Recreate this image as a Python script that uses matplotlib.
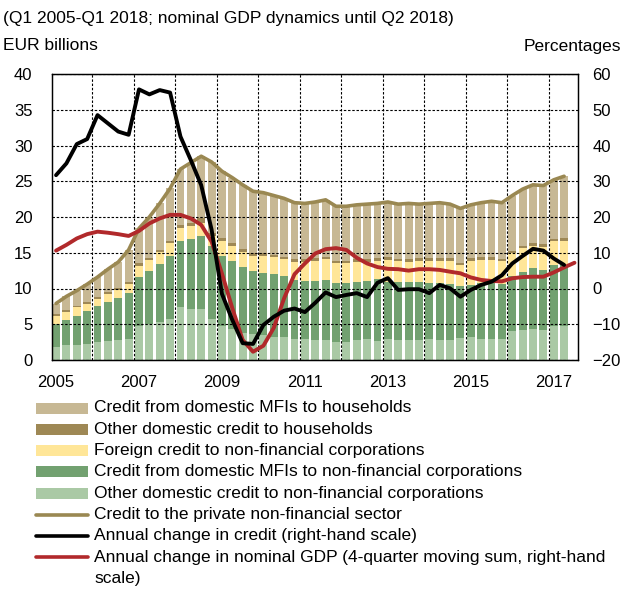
import numpy as np
import matplotlib
matplotlib.use("Agg")
import matplotlib.pyplot as plt
from matplotlib import font_manager
from matplotlib.patches import Rectangle
from matplotlib.lines import Line2D

# quarterly data, EUR billions (bars) and percentages (lines)
years = ["2005", "2007", "2009", "2011", "2013", "2015", "2017"]

other_nfc = [1.85, 2.1, 2.1, 2.3, 2.55, 2.7, 2.8, 2.95, 4.75, 5.0,
             5.35, 5.7, 7.45, 7.1, 7.2, 5.8, 4.75, 4.3, 3.8, 3.6,
             3.5, 3.2, 3.15, 2.95, 2.9, 2.8, 2.8, 2.45, 2.5, 2.8,
             2.9, 2.7, 3.0, 2.8, 2.8, 2.8, 2.9, 2.8, 2.8, 3.1,
             3.25, 2.95, 2.9, 2.9, 4.05, 4.2, 4.35, 4.2, 4.8, 4.8]
mfi_nfc = [3.25, 3.5, 4.1, 4.5, 5.05, 5.45, 5.9, 6.45, 6.9, 7.45,
           8.05, 8.9, 9.25, 9.8, 10.1, 10.2, 9.85, 9.5, 9.2, 8.9,
           8.7, 8.8, 8.6, 8.25, 8.2, 8.3, 8.4, 8.35, 8.2, 8.15,
           8.2, 8.6, 7.95, 8.15, 8.15, 8.1, 7.9, 7.9, 7.8, 7.25,
           7.25, 7.75, 7.9, 7.7, 7.75, 8.15, 8.45, 8.4, 8.5, 8.5]
foreign_nfc = [1.1, 1.15, 1.15, 1.1, 1.0, 1.05, 1.1, 1.2, 1.55, 1.55,
               1.65, 1.7, 1.8, 1.8, 1.9, 1.3, 2.0, 2.1, 2.1, 2.1,
               2.3, 2.4, 2.35, 2.55, 2.65, 2.75, 2.9, 2.7, 2.8, 2.8,
               2.65, 2.55, 3.05, 2.9, 2.8, 2.9, 3.0, 3.1, 3.2, 2.95,
               3.4, 3.3, 3.2, 3.2, 3.1, 3.25, 3.1, 3.2, 3.3, 3.4]
other_hh = [0.25, 0.25, 0.25, 0.25, 0.25, 0.25, 0.25, 0.25, 0.3, 0.3,
            0.35, 0.4, 0.4, 0.5, 0.6, 0.4, 0.4, 0.4, 0.4, 0.4,
            0.4, 0.3, 0.35, 0.35, 0.35, 0.35, 0.35, 0.35, 0.35, 0.35,
            0.35, 0.35, 0.4, 0.3, 0.35, 0.4, 0.4, 0.4, 0.4, 0.3,
            0.4, 0.4, 0.4, 0.3, 0.3, 0.3, 0.4, 0.4, 0.3, 0.3]
mfi_hh = [1.45, 1.9, 2.1, 2.45, 2.75, 3.25, 3.65, 4.55, 4.9, 5.7,
          6.5, 7.3, 7.8, 8.4, 8.7, 10.0, 9.4, 9.2, 9.0, 8.6,
          8.5, 8.3, 8.15, 7.9, 7.8, 7.9, 7.95, 7.65, 7.65, 7.6,
          7.7, 7.7, 7.7, 7.65, 7.8, 7.6, 7.7, 7.8, 7.6, 7.6,
          7.4, 7.6, 7.8, 7.9, 7.8, 8.0, 8.2, 8.2, 8.3, 8.7]

credit_change = [31.7, 35.0, 40.4, 41.8, 48.5, 46.2, 43.9, 43.0, 55.7, 54.3,
                 55.5, 54.8, 42.5, 35.9, 28.9, 16.5, -1.5, -8.8, -15.3, -15.5,
                 -10.2, -7.9, -6.2, -5.6, -6.6, -4.0, -1.1, -2.4, -1.8, -1.3,
                 -2.4, 1.6, 2.9, -0.4, -0.2, -0.2, -1.3, 1.0, 0.05, -2.3,
                 -0.4, 1.0, 1.9, 3.7, 7.0, 9.1, 11.1, 10.6, 8.4, 6.6]
gdp_change = [10.6, 12.2, 14.0, 15.2, 15.9, 15.6, 15.2, 14.7, 16.1, 18.2,
              19.6, 20.6, 20.6, 19.6, 17.8, 13.1, 4.2, -5.5, -14.4, -17.7,
              -16.0, -11.0, -2.7, 4.0, 7.0, 9.8, 11.0, 11.3, 10.8, 8.6,
              7.0, 6.0, 5.5, 5.4, 5.0, 5.4, 5.4, 5.2, 4.7, 4.25,
              3.1, 2.4, 2.1, 2.0, 2.85, 3.2, 3.3, 3.3, 4.5, 5.9, 7.2]

labels = [
    "Credit from domestic MFIs to households",
    "Other domestic credit to households",
    "Foreign credit to non-financial corporations",
    "Credit from domestic MFIs to non-financial corporations",
    "Other domestic credit to non-financial corporations",
    "Credit to the private non-financial sector",
    "Annual change in credit (right-hand scale)",
    "Annual change in nominal GDP (4-quarter moving sum, right-hand\nscale)",
]

C_TAN = "#C7B894"
C_DARK = "#9E8855"
C_YELLOW = "#FFE698"
C_GREEN = "#72A170"
C_LIGHT = "#AAC9A5"
C_LINE = "#9A8852"
C_RED = "#B1292B"

installed = {f.name for f in font_manager.fontManager.ttflist}
if "Liberation Sans Narrow" in installed:
    FONT, FS, TS = "Liberation Sans Narrow", 14, 14
else:
    FONT, FS, TS = "Liberation Sans", 12.5, 12
plt.rcParams["font.family"] = [FONT, "DejaVu Sans"]

W, H = 624, 590
fig = plt.figure(figsize=(W / 100, H / 100), dpi=100)
ax = fig.add_axes([52 / W, 1 - 360 / H, 526 / W, 286 / H])
ax2 = ax.twinx()

x = np.arange(len(mfi_hh))
x_gdp = np.arange(len(gdp_change))

bottom = np.zeros(len(x))
for vals, color in [(other_nfc, C_LIGHT), (mfi_nfc, C_GREEN), (foreign_nfc, C_YELLOW),
                    (other_hh, C_DARK), (mfi_hh, C_TAN)]:
    ax.bar(x, vals, width=0.76, bottom=bottom, color=color, linewidth=0)
    bottom = bottom + np.array(vals)
ax.plot(x, bottom, color=C_LINE, lw=2.6, solid_capstyle="round", zorder=3)

ax2.plot(x_gdp, gdp_change, color=C_RED, lw=2.8, solid_capstyle="round")
ax2.plot(x, credit_change, color="black", lw=2.8, solid_capstyle="round")

ax.set_xlim(-0.39, 50.34)
ax.set_ylim(0, 40)
ax2.set_ylim(-20, 60)
ax.set_yticks(np.arange(0, 41, 5))
ax2.set_yticks(np.arange(-20, 61, 10))
ax2.set_yticklabels([f"{v}".replace("-", "\u2212") for v in range(-20, 61, 10)])
ax.set_xticks(np.arange(0, len(x), 8))
ax.set_xticklabels(years)
ax.set_xticks(np.arange(3.5, len(x), 4), minor=True)

ax.set_axisbelow("line")
dash = (0, (2.2, 1.6))
ax.yaxis.grid(True, color="black", lw=0.8, linestyle=dash)
ax.xaxis.grid(True, which="minor", color="black", lw=0.8, linestyle=dash)
ax.xaxis.grid(False, which="major")

ax.tick_params(axis="both", which="both", length=0, labelsize=TS)
ax.tick_params(axis="y", pad=14)
ax.tick_params(axis="x", pad=11)
ax2.tick_params(axis="y", length=0, labelsize=TS, pad=10.5)
for a in (ax, ax2):
    for s in a.spines.values():
        s.set_linewidth(0.9)
        s.set_color("black")

fig.text(3 / W, 1 - 18 / H, "(Q1 2005-Q1 2018; nominal GDP dynamics until Q2 2018)",
         fontsize=FS, va="center", ha="left")
fig.text(3 / W, 1 - 46 / H, "EUR billions", fontsize=FS, va="center", ha="left")
fig.text(621 / W, 1 - 46 / H, "Percentages", fontsize=FS, va="center", ha="right")

# legend drawn row by row under the plot
kinds = [("patch", C_TAN), ("patch", C_DARK), ("patch", C_YELLOW), ("patch", C_GREEN),
         ("patch", C_LIGHT), ("line", C_LINE), ("line", "black"), ("line", C_RED)]
row_y0, row_h = 408, 21.3
row = 0
for label, (kind, color) in zip(labels, kinds):
    yc = row_y0 + row * row_h
    if kind == "patch":
        fig.add_artist(Rectangle((36 / W, 1 - (yc + 5.5) / H), 52 / W, 11 / H,
                                 transform=fig.transFigure, color=color, lw=0))
    else:
        fig.add_artist(Line2D([36 / W, 88 / W], [1 - yc / H, 1 - yc / H],
                              transform=fig.transFigure, color=color, lw=2.6,
                              solid_capstyle="round"))
    for line in label.split("\n"):
        fig.text(94 / W, 1 - (row_y0 + row * row_h) / H, line, fontsize=FS,
                 va="center", ha="left")
        row += 1

fig.savefig("out.png", dpi=100)
